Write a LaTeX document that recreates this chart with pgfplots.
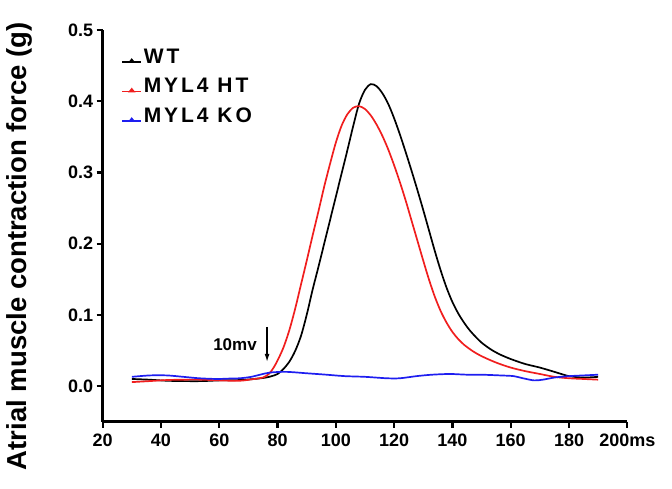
\documentclass[border=0pt]{standalone}
\usepackage{pgfplots}
\pgfplotsset{compat=1.18}
\usepackage{pgfplotstable}
\usepackage{fontspec}
\setmainfont{Liberation Sans}
\newfontfamily\legfont{Liberation Sans}[LetterSpace=14]
\usetikzlibrary{arrows.meta}

% WT
\pgfplotstableread{
x y
30 0.010
36 0.009
42 0.0075
48 0.007
54 0.007
60 0.008
67 0.0085
72 0.010
76 0.012
78 0.014
80 0.017
82 0.024
84 0.034
86 0.049
88 0.070
90 0.100
92 0.135
94 0.167
96 0.200
98 0.233
100 0.266
102 0.299
104 0.332
106 0.366
108 0.397
110 0.416
112 0.424
114 0.421
116 0.411
118 0.396
120 0.376
122 0.353
124 0.328
126 0.302
128 0.275
130 0.247
132 0.218
134 0.189
136 0.162
138 0.138
140 0.118
142 0.102
144 0.089
146 0.078
148 0.069
150 0.061
153 0.052
156 0.045
160 0.038
165 0.031
170 0.026
175 0.020
180 0.014
185 0.012
190 0.013
}\wtdata

% MYL4 HT
\pgfplotstableread{
x y
30 0.0056
36 0.007
42 0.0085
48 0.009
54 0.009
60 0.008
67 0.0075
72 0.010
75 0.012
77 0.017
78.5 0.025
80 0.036
82 0.054
84 0.078
86 0.108
88 0.142
90 0.176
92 0.211
94 0.245
96 0.280
98 0.312
100 0.342
102 0.366
104 0.382
106 0.391
108 0.393
110 0.389
112 0.380
114 0.367
116 0.351
118 0.332
120 0.310
122 0.286
124 0.260
126 0.232
128 0.204
130 0.176
132 0.149
134 0.125
136 0.105
138 0.089
140 0.076
142 0.066
144 0.058
147 0.049
150 0.042
155 0.033
160 0.026
165 0.021
170 0.017
175 0.013
180 0.011
185 0.010
190 0.009
}\htdata

% MYL4 KO
\pgfplotstableread{
x y
30 0.013
36.2 0.015
42 0.015
47.7 0.013
53 0.011
59.1 0.010
63 0.0105
67.1 0.011
71 0.013
74 0.016
77.4 0.019
83 0.020
90 0.018
96.8 0.016
103 0.014
110 0.013
117.4 0.011
122 0.011
127.7 0.014
133 0.016
139.1 0.017
145 0.016
150 0.016
156.3 0.015
161 0.014
164.2 0.011
168 0.008
171 0.009
175 0.012
180 0.014
185 0.015
190 0.016
}\kodata

\definecolor{myred}{RGB}{240,30,30}
\definecolor{myblue}{RGB}{30,30,240}

\begin{document}
\begin{tikzpicture}
\useasboundingbox (-102.7pt,-66.3pt) rectangle (569.3pt,421.7pt);
\begin{axis}[
  at={(0,0)}, anchor=south west,
  scale only axis,
  width=524.6pt, height=391.7pt,
  xmin=20, xmax=200, ymin=-0.05, ymax=0.5,
  axis x line*=bottom, axis y line*=left,
  axis line style={-, line width=2.6pt},
  tick align=outside,
  major tick length=6pt,
  tick style={line width=2.2pt, black},
  xtick={20,40,...,200},
  xticklabels={20,40,60,80,100,120,140,160,180,200ms},
  ytick={0,0.1,...,0.5},
  yticklabel style={/pgf/number format/.cd, fixed, fixed zerofill, precision=1, assume math mode=true},
  tick label style={font=\fontsize{18}{20}\selectfont\bfseries},
  xticklabel style={yshift=-3pt},
  ylabel={Atrial muscle contraction force (g)},
  ylabel style={at={(axis description cs:-0.158,0.448)}, anchor=center, font=\fontsize{27.5}{30}\selectfont\bfseries},
  legend style={at={(axis description cs:0.03,0.962)}, anchor=north west, draw=none, fill=none,
    font=\legfont\fontsize{21}{23}\selectfont\bfseries, row sep=9.5pt,
    /tikz/every even column/.append style={column sep=5pt}},
  legend cell align=left,
  legend image code/.code={
    \draw[#1, line width=1.2pt] (0pt,-5pt) -- (19pt,-5pt);
    \fill[#1] (7.5pt,-5pt) -- (9.5pt,-2.5pt) -- (11.5pt,-5pt) -- cycle;
  },
]
\addplot[black, line width=1.7pt, smooth] table {\wtdata};
\addlegendentry{WT}
\addplot[myred, line width=1.7pt, smooth] table {\htdata};
\addlegendentry{MYL4 HT}
\addplot[myblue, line width=1.7pt, smooth] table {\kodata};
\addlegendentry{MYL4 KO}
\node[font=\fontsize{17}{19}\selectfont\bfseries] at (axis cs:65.4,0.058) {10mv};
\draw[-{Latex[length=8pt,width=5pt]}, line width=1.3pt] (axis cs:76.4,0.083) -- (axis cs:76.4,0.034);
\end{axis}
\end{tikzpicture}
\end{document}
